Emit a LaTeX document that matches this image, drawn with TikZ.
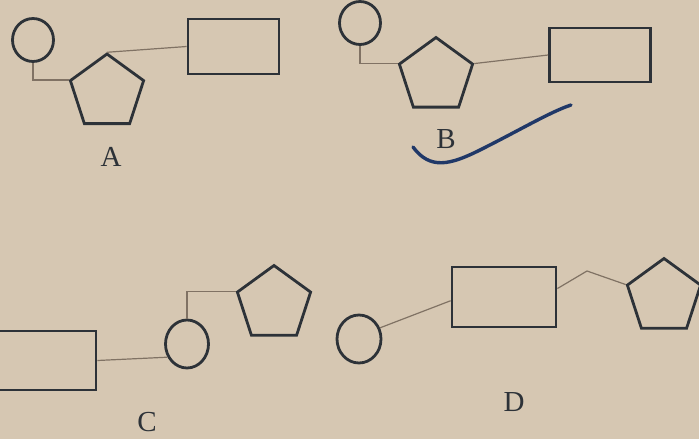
\documentclass[tikz,border=0pt]{standalone}
\usepackage{fontspec}
\setmainfont{Liberation Serif}
\usetikzlibrary{shapes.geometric}
\definecolor{paper}{RGB}{214,199,178}
\definecolor{ink}{RGB}{45,50,56}
\definecolor{wire}{RGB}{128,114,100}
\definecolor{pen}{RGB}{32,56,104}
\tikzset{
  ring/.style={ellipse, draw=ink, line width=2.8pt, minimum width=41pt, minimum height=43pt, inner sep=0pt},
  pent/.style={regular polygon, regular polygon sides=5, draw=ink, line width=2.8pt, minimum size=77pt, inner sep=0pt},
  block/.style={rectangle, draw=ink, line width=2.8pt, inner sep=0pt},
  link/.style={draw=wire, line width=1.2pt},
  tag/.style={font=\fontsize{29}{32}\selectfont, text=ink, inner sep=0pt}
}

\begin{document}
\begin{tikzpicture}[x=1pt, y=-1pt]
    \fill[paper] (0,0) rectangle (699,439);
    \useasboundingbox (0,0) rectangle (699,439);

    % A
    \node[ring] (cA) at (33,40) {};
    \node[pent] (pA) at (107,92.5) {};
    \node[block, minimum width=91pt, minimum height=55pt] (rA) at (233.5,46.5) {};
    \node[tag] (lA) at (111,157) {A};
    \draw[link] (cA.south) |- (pA.corner 2);
    \draw[link] (pA.corner 1) -- (rA.west);

    % B
    \node[ring] (cB) at (360,23) {};
    \node[pent] (pB) at (436,76) {};
    \node[block, minimum width=101pt, minimum height=54pt] (rB) at (600,55) {};
    \node[tag] (lB) at (446,139) {B};
    \draw[link] (cB.south) |- (pB.corner 2);
    \draw[link] (pB.corner 5) -- (rB.west);
    \draw[pen, line width=3.4pt, line cap=round]
        (413,147) .. controls (430,170) and (450,165) .. (480,150)
        .. controls (520,130) and (550,112) .. (571,105);

    % C
    \node[ring, minimum width=43pt, minimum height=48pt] (cC) at (187,344) {};
    \node[pent] (pC) at (274,304) {};
    \node[block, minimum width=97pt, minimum height=59pt] (rC) at (47.5,360.5) {};
    \node[tag] (lC) at (147,422) {C};
    \draw[link] (rC.east) -- (cC.214);
    \draw[link] (cC.north) |- (pC.corner 2);

    % D
    \node[ring, minimum width=44pt, minimum height=48pt] (cD) at (359,339) {};
    \node[block, minimum width=104pt, minimum height=60pt] (rD) at (504,297) {};
    \node[pent] (pD) at (664,297) {};
    \coordinate (kD) at (587,271);
    \node[tag] (lD) at (514,402) {D};
    \draw[link] (cD.28) -- (rD.184);
    \draw[link] (rD.9) -- (kD) -- (pD.corner 2);
\end{tikzpicture}
\end{document}
